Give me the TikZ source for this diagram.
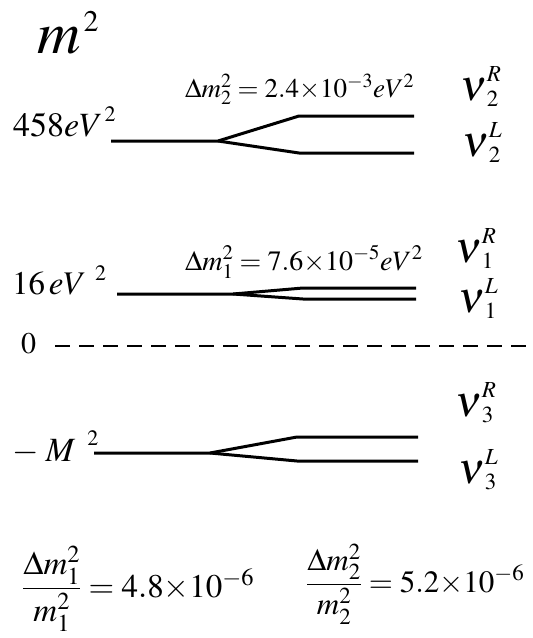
\documentclass[tikz,border=0pt]{standalone}
\usepackage{amsmath}
\usepackage{mathptmx}
\usepackage{tikz}
\usetikzlibrary{positioning}

% big nu with stacked indices
\newcommand{\nulab}[2]{{\fontsize{44}{44}\selectfont$\nu$}{\fontsize{23}{23}\selectfont\rlap{\raisebox{19pt}{$#2$}}\raisebox{-6pt}{$#1$}}}
% raised small exponent set apart from its base
\newcommand{\upsq}[1]{\raisebox{#1}{\fontsize{22}{22}\selectfont$2$}}

\begin{document}
\begin{tikzpicture}[x=1pt,y=-1pt,
            level/.style={line width=3pt},
            zeroline/.style={line width=2.6pt, dash pattern=on 15pt off 9pt},
            lbl/.style={anchor=base west, inner sep=0pt}
        ]
        \useasboundingbox (0,0) rectangle (533,638);

        % axis label
        \node[lbl] (msq) at (37,53) {\fontsize{60}{60}\selectfont$m$\hspace{3pt}\raisebox{22pt}{\fontsize{30}{30}\selectfont$2$}};

        % nu_2 level
        \node[lbl] (e458) at (13,136) {\fontsize{34}{34}\selectfont$458eV$\hspace{2pt}\upsq{15pt}};
        \node[lbl] (dm2) at (185,97) {\fontsize{27}{27}\selectfont$\Delta m_2^2 = 2.4{\times}10^{-3}eV^2$};
        \coordinate (a2) at (111,141);
        \coordinate (s2) at (218,141);
        \coordinate (r2) at (299,116);
        \coordinate (r2e) at (414,116);
        \coordinate (l2) at (299,153);
        \coordinate (l2e) at (414,153);
        \draw[level] (a2) -- (s2) -- (r2) -- (r2e);
        \draw[level] (s2) -- (l2) -- (l2e);
        \node[lbl] (nu2R) at (460,100) {\nulab{2}{R}};
        \node[lbl] (nu2L) at (462,156) {\nulab{2}{L}};

        % nu_1 level
        \node[lbl] (e16) at (12,294) {\fontsize{33}{33}\selectfont$16\,eV$\hspace{9pt}\upsq{14pt}};
        \node[lbl] (dm1) at (185,270) {\fontsize{28}{28}\selectfont$\Delta m_1^2 = 7.6{\times}10^{-5}eV^2$};
        \coordinate (a1) at (117,294);
        \coordinate (s1) at (233,294);
        \coordinate (r1) at (303,288);
        \coordinate (r1e) at (416,288);
        \coordinate (l1) at (303,299);
        \coordinate (l1e) at (416,299);
        \draw[level] (a1) -- (s1) -- (r1) -- (r1e);
        \draw[level] (s1) -- (l1) -- (l1e);
        \node[lbl] (nu1R) at (455,262) {\nulab{1}{R}};
        \node[lbl] (nu1L) at (458,312) {\nulab{1}{L}};

        % zero line
        \node[lbl] (zero) at (21,353) {\fontsize{30}{30}\selectfont$0$};
        \coordinate (z0) at (55,346);
        \coordinate (z1) at (533,346);
        \draw[zeroline] (z0) -- (z1);

        % nu_3 level
        \node[lbl] (mM) at (12,461) {\fontsize{34}{34}\selectfont$-$\hspace{7pt}$M$\hspace{12pt}\upsq{16pt}};
        \coordinate (a3) at (94,453);
        \coordinate (s3) at (210,453);
        \coordinate (r3) at (297,437);
        \coordinate (r3e) at (418,437);
        \coordinate (l3) at (297,461);
        \coordinate (l3e) at (418,461);
        \draw[level] (a3) -- (s3) -- (r3) -- (r3e);
        \draw[level] (s3) -- (l3) -- (l3e);
        \node[lbl] (nu3R) at (455,416) {\nulab{3}{R}};
        \node[lbl] (nu3L) at (458,483) {\nulab{3}{L}};

        % ratios
        \node[lbl] (rat1) at (22,597) {\fontsize{33}{33}\selectfont$\dfrac{\Delta m_1^2}{m_1^2} = 4.8{\times}10^{-6}$};
        \node[lbl] (rat2) at (306,592) {\fontsize{31}{31}\selectfont$\dfrac{\Delta m_2^2}{m_2^2} = 5.2{\times}10^{-6}$};
        \end{tikzpicture}
\end{document}
